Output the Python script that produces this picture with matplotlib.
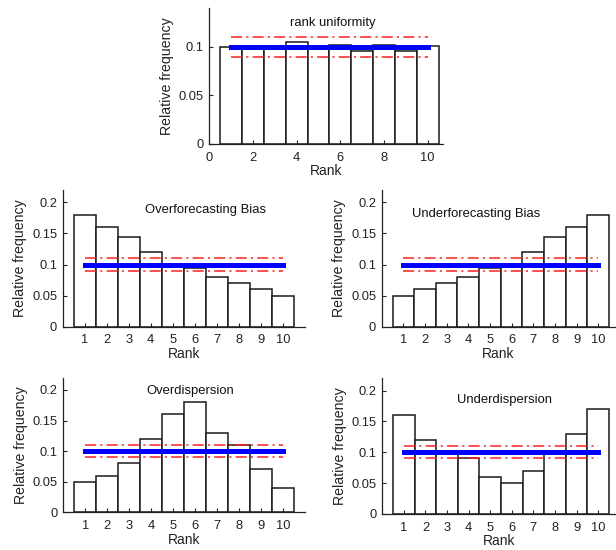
import matplotlib
matplotlib.use("Agg")
import matplotlib.pyplot as plt
import numpy as np

plt.rcParams['font.family'] = ['Liberation Sans', 'DejaVu Sans']
plt.rcParams['lines.scale_dashes'] = False

ranks = [1, 2, 3, 4, 5, 6, 7, 8, 9, 10]
uniform_vals = [0.100, 0.099, 0.099, 0.1045, 0.099, 0.1015, 0.096, 0.1015, 0.096, 0.101]
overfc_vals = [0.18, 0.16, 0.145, 0.12, 0.10, 0.094, 0.08, 0.07, 0.06, 0.05]
underfc_vals = [0.05, 0.06, 0.07, 0.08, 0.094, 0.10, 0.12, 0.145, 0.16, 0.18]
overdisp_vals = [0.05, 0.06, 0.08, 0.12, 0.16, 0.18, 0.13, 0.11, 0.07, 0.04]
underdisp_vals = [0.16, 0.12, 0.10, 0.09, 0.06, 0.05, 0.07, 0.10, 0.13, 0.17]

expected = 0.1
band_low, band_high = 0.09, 0.11

titles = ["rank uniformity", "Overforecasting Bias", "Underforecasting Bias",
          "Overdispersion", "Underdispersion"]

fig = plt.figure(figsize=(6.16, 5.5), dpi=100)

W, H = 616.0, 550.0
def ax_at(left, right, top, bottom):
    return fig.add_axes([left / W, 1 - bottom / H, (right - left) / W, (bottom - top) / H])

panels = [
    ((209.3, 443, 8, 144), uniform_vals, titles[0], (5.65, 0.125), (0, 10.7), (0, 0.14),
     [0, 2, 4, 6, 8, 10], [0, 0.05, 0.1]),
    ((62.7, 305, 190, 326.7), overfc_vals, titles[1], (6.5, 0.188), (0, 11), (0, 0.22),
     ranks, [0, 0.05, 0.1, 0.15, 0.2]),
    ((381.7, 615.5, 190, 326.7), underfc_vals, titles[2], (4.35, 0.182), (0, 10.8), (0, 0.22),
     ranks, [0, 0.05, 0.1, 0.15, 0.2]),
    ((63.3, 305, 377.7, 512.3), overdisp_vals, titles[3], (5.8, 0.198), (0, 11), (0, 0.22),
     ranks, [0, 0.05, 0.1, 0.15, 0.2]),
    ((382.3, 615.5, 378.3, 514), underdisp_vals, titles[4], (5.65, 0.185), (0, 10.8), (0, 0.22),
     ranks, [0, 0.05, 0.1, 0.15, 0.2]),
]

tick_color = '#222222'
for box, vals, title, tpos, xlim, ylim, xt, yt in panels:
    ax = ax_at(*box)
    ax.bar(ranks, vals, width=1.0, color='white', edgecolor='#1a1a1a', linewidth=1.1, zorder=1)
    for y in (band_low, band_high):
        ln, = ax.plot([ranks[0], ranks[-1]], [y, y], color='#ff2020', linewidth=1.1, zorder=3)
        ln.set_dashes((8, 3, 1.5, 3))
    ax.plot([ranks[0], ranks[-1]], [expected, expected], color='#0000ff', linewidth=3.6,
            solid_capstyle='projecting', zorder=4)
    ax.text(tpos[0], tpos[1], title, ha='center', va='center', fontsize=9.4, color='#111111')
    ax.set_xlim(*xlim)
    ax.set_ylim(*ylim)
    ax.set_xticks(xt)
    ax.set_yticks(yt)
    ax.set_yticklabels([('%g' % v) for v in yt])
    ax.spines['top'].set_visible(False)
    ax.spines['right'].set_visible(False)
    for s in ('left', 'bottom'):
        ax.spines[s].set_linewidth(0.9)
        ax.spines[s].set_color('#222222')
    ax.tick_params(direction='in', length=3, width=0.8, labelsize=9.3, colors=tick_color,
                   pad=4)
    ax.tick_params(axis='x', pad=5.5)
    ax.set_xlabel("Rank", fontsize=10, color=tick_color, labelpad=0.5)
    ax.set_ylabel("Relative frequency", fontsize=10.2, color=tick_color, labelpad=3.5)

fig.savefig("out.png", dpi=100)
